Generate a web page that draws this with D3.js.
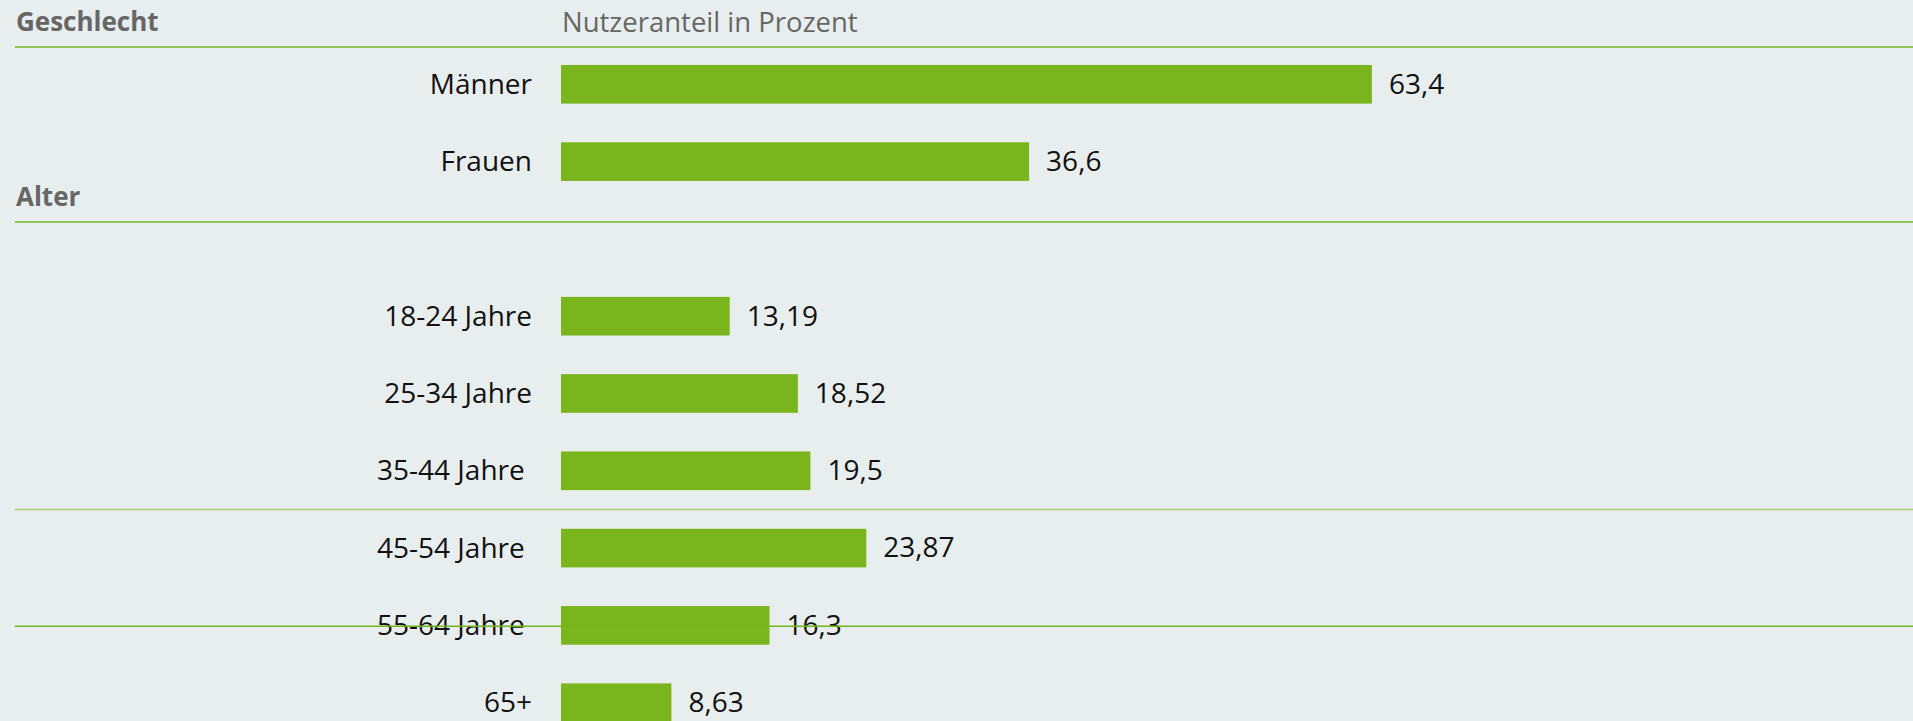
<!DOCTYPE html>
<html>
<head>
<meta charset="utf-8">
<script src="https://cdn.jsdelivr.net/npm/d3@7"></script>
<style>
  html, body { margin: 0; padding: 0; background: #e8eeee; overflow: hidden; }
  svg { display: block; }
  text { font-family: "Open Sans", "Noto Sans", sans-serif; white-space: pre; }
</style>
</head>
<body>
<svg id="chart" width="1913" height="721"></svg>
<script>
// ---- data ----
const genderCategories = ["Männer", "Frauen"];
const genderValues = [63.4, 36.6];
const ageCategories = ["18-24 Jahre", "25-34 Jahre", "35-44 Jahre ", "45-54 Jahre ", "55-64 Jahre ", "65+"];
const ageValues = [13.19, 18.52, 19.5, 23.87, 16.3, 8.63];
const sectionTitles = ["Geschlecht", "Alter"];
const axisTitle = "Nutzeranteil in Prozent";

// ---- layout ----
const W = 1913, H = 721;
const svg = d3.select("#chart");
svg.append("rect").attr("width", W).attr("height", H).attr("fill", "#e8eeee");

const rows = [
  ...genderCategories.map((c, i) => ({ key: "g" + i, label: c, value: genderValues[i] })),
  { key: "gap", label: null, value: null },
  ...ageCategories.map((c, i) => ({ key: "a" + i, label: c, value: ageValues[i] }))
];

const x = d3.scaleLinear().domain([0, 100]).range([561, 561 + 1279]);
const y = d3.scaleBand()
  .domain(rows.map(r => r.key))
  .range([45.65, 45.65 + 9 * 77.3])
  .paddingInner(0.5)
  .paddingOuter(0.25);

const fmt = v => String(v).replace(".", ",");
const data = rows.filter(r => r.value !== null);

// separator lines
const lines = [
  { y: 47, color: "#93c15a", w: 2 },
  { y: 222, color: "#93c15a", w: 2 },
  { y: 509.5, color: "#b2cf8c", w: 2.2 }
];
svg.selectAll("line.sep").data(lines).join("line")
  .attr("class", "sep")
  .attr("x1", 15).attr("x2", W)
  .attr("y1", d => d.y).attr("y2", d => d.y)
  .attr("stroke", d => d.color).attr("stroke-width", d => d.w);

// headers
svg.append("text").attr("x", 16).attr("y", 30.7)
  .attr("font-size", 26).attr("font-weight", 700).attr("fill", "#666666")
  .text(sectionTitles[0]);
svg.append("text").attr("x", 16).attr("y", 205.7)
  .attr("font-size", 26).attr("font-weight", 700).attr("fill", "#666666")
  .text(sectionTitles[1]);
svg.append("text").attr("x", x(0) + 1).attr("y", 31.7)
  .attr("font-size", 27.5).attr("fill", "#666666")
  .text(axisTitle);

// bars
svg.selectAll("rect.bar").data(data).join("rect")
  .attr("class", "bar")
  .attr("x", x(0))
  .attr("y", d => y(d.key))
  .attr("width", d => x(d.value) - x(0))
  .attr("height", y.bandwidth())
  .attr("fill", "#7ab51d");

// category labels
svg.selectAll("text.cat").data(data).join("text")
  .attr("class", "cat")
  .attr("x", x(0) - 29)
  .attr("y", d => y(d.key) + y.bandwidth() / 2 + 9.6)
  .attr("text-anchor", "end")
  .attr("font-size", 28)
  .attr("fill", "#111111")
  .text(d => d.label);

// value labels
svg.selectAll("text.val").data(data).join("text")
  .attr("class", "val")
  .attr("x", d => x(d.value) + 17)
  .attr("y", d => y(d.key) + y.bandwidth() / 2 + 9.3)
  .attr("font-size", 28)
  .attr("fill", "#111111")
  .text(d => fmt(d.value));

// line drawn over the labels
svg.append("line")
  .attr("x1", 15).attr("x2", W)
  .attr("y1", 626.3).attr("y2", 626.3)
  .attr("stroke", "#74b41c").attr("stroke-width", 1.5);
</script>
</body>
</html>
